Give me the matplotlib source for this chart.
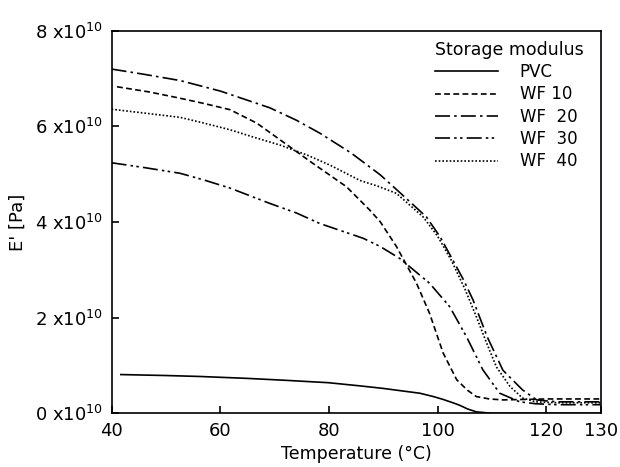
import matplotlib
matplotlib.use("Agg")
import matplotlib.pyplot as plt

# Data (E' in units of 1e10 Pa)
T_pvc = [41.7, 50, 56.3, 65, 72, 79.9, 86, 90, 94, 96.7, 99.2, 101, 102.8, 104, 105.5, 107.1, 110, 120, 130]
E_pvc = [0.81, 0.79, 0.77, 0.73, 0.69, 0.64, 0.57, 0.52, 0.46, 0.42, 0.35, 0.29, 0.22, 0.17, 0.09, 0.03, 0.0, 0.0, 0.0]

T_wf10 = [41, 47, 52.6, 57, 61.8, 66.7, 71, 77, 83.2, 87.5, 89.4, 92.4, 96.1, 98.5, 101, 103.5, 105.5, 107.1, 109.5, 112, 120, 130]
E_wf10 = [6.83, 6.72, 6.59, 6.48, 6.35, 6.07, 5.72, 5.23, 4.74, 4.25, 4.01, 3.49, 2.72, 2.09, 1.26, 0.70, 0.48, 0.35, 0.30, 0.28, 0.30, 0.30]

T_wf20 = [40, 46, 52.6, 60, 69.1, 74, 78.3, 84, 89.4, 93, 97.9, 100.5, 102.8, 104.8, 106.5, 109.1, 112, 115.6, 118.2, 122, 130]
E_wf20 = [7.20, 7.09, 6.96, 6.74, 6.39, 6.13, 5.86, 5.45, 4.99, 4.62, 4.11, 3.68, 3.20, 2.78, 2.37, 1.60, 0.90, 0.49, 0.28, 0.24, 0.24]

T_wf30 = [40, 46, 52.6, 57, 61.8, 69.1, 74, 78.3, 86.3, 89.4, 93, 98.5, 102.2, 105.3, 108.3, 111.4, 115.1, 118, 122, 130]
E_wf30 = [5.24, 5.14, 5.02, 4.88, 4.71, 4.39, 4.19, 3.97, 3.66, 3.49, 3.24, 2.72, 2.23, 1.60, 0.91, 0.42, 0.24, 0.20, 0.18, 0.18]

T_wf40 = [40, 46, 52.6, 57, 61.8, 66, 71, 76, 80.2, 85.7, 89, 92.4, 97.3, 100, 102.5, 105, 107, 109, 110.8, 113.3, 115.6, 118, 122, 130]
E_wf40 = [6.36, 6.28, 6.19, 6.07, 5.93, 5.78, 5.61, 5.40, 5.19, 4.87, 4.75, 4.60, 4.11, 3.70, 3.20, 2.60, 2.05, 1.47, 0.97, 0.56, 0.32, 0.24, 0.22, 0.22]

labels = ["PVC", "WF 10", "WF  20", "WF  30", "WF  40"]
xticks = [40, 60, 80, 100, 120, 130]
yticks = [0, 2, 4, 6, 8]

fig = plt.figure(figsize=(6.2, 4.67), dpi=100)
ax = fig.add_axes([0.180, 0.115, 0.789, 0.819])

lw = 1.2
ax.plot(T_pvc, E_pvc, color="black", lw=lw, linestyle="-", label=labels[0])
ax.plot(T_wf10, E_wf10, color="black", lw=lw, linestyle=(0, (3.5, 2)), label=labels[1])
ax.plot(T_wf20, E_wf20, color="black", lw=lw, linestyle=(0, (9, 2.5, 1.5, 2.5)), label=labels[2])
ax.plot(T_wf30, E_wf30, color="black", lw=lw, linestyle=(0, (9, 2.5, 1.5, 2, 1.5, 2.5)), label=labels[3])
ax.plot(T_wf40, E_wf40, color="black", lw=lw, linestyle=(0, (1, 1.2)), label=labels[4])

ax.set_xlim(40, 130)
ax.set_ylim(0, 8)
ax.set_xticks(xticks)
ax.set_xticklabels([str(t) for t in xticks], fontsize=13)
ax.set_yticks(yticks)
ax.set_yticklabels([r"%d x10$^{10}$" % v for v in yticks], fontsize=13)
ax.tick_params(direction="in", length=5, width=1.2, top=False, right=False, pad=6)
for s in ax.spines.values():
    s.set_linewidth(1.2)

ax.set_xlabel("Temperature (°C)", fontsize=12.5, labelpad=4)
ax.set_ylabel("E' [Pa]", fontsize=13, labelpad=6)

leg = ax.legend(title="Storage modulus", loc="upper right", frameon=False,
                fontsize=12, title_fontsize=12.5, handlelength=3.8,
                handletextpad=1.3, labelspacing=0.26, borderaxespad=0.2,
                bbox_to_anchor=(0.985, 1.0))
leg._legend_box.align = "left"

fig.savefig("out.png", dpi=100)
